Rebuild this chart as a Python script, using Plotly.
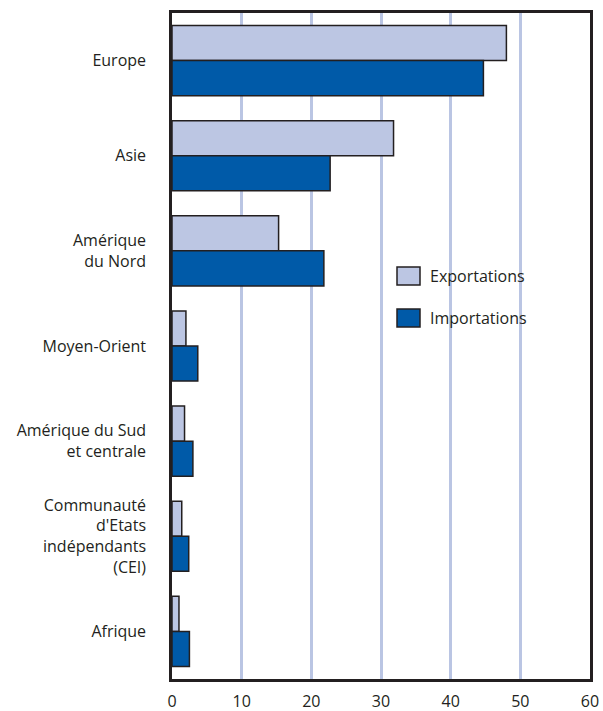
import plotly.graph_objects as go

# Régions (haut en bas) et parts du commerce, en %
regions = [
    "Europe",
    "Asie",
    "Amérique<br>du Nord",
    "Moyen-Orient",
    "Amérique du Sud<br>et centrale",
    "Communauté<br>d'Etats<br>indépendants<br>(CEI)",
    "Afrique",
]
exportations = [48.0, 31.8, 15.3, 2.0, 1.8, 1.4, 1.0]
importations = [44.7, 22.7, 21.8, 3.7, 3.0, 2.4, 2.5]
series_names = ["Exportations", "Importations"]
x_ticks = [0, 10, 20, 30, 40, 50, 60]

col_exp = "#bcc6e3"
col_imp = "#005aa8"
ink = "#231f20"
grid = "#bac5e3"
font = "Open Sans"

fig = go.Figure()
for name, vals, col in zip(series_names, [exportations, importations], [col_exp, col_imp]):
    fig.add_trace(go.Bar(
        y=regions, x=vals, name=name, orientation="h",
        marker=dict(color=col, line=dict(color=ink, width=1.5)),
        showlegend=False,
    ))

# Légende dessinée à la main : grandes pastilles carrées
W, H = 603, 711
L, R, T, B = 172, 13, 13, 32
pw, ph = W - L - R, H - T - B


def px_x(x):
    return (x - L) / pw


def px_y(y):
    return 1 - (y - T) / ph


legend_rows = [(series_names[0], col_exp, 276), (series_names[1], col_imp, 318)]
for name, col, cy in legend_rows:
    fig.add_shape(type="rect", xref="paper", yref="paper",
                  x0=px_x(397), x1=px_x(420), y0=px_y(cy - 9), y1=px_y(cy + 9),
                  fillcolor=col, line=dict(color=ink, width=1.5))
    fig.add_annotation(xref="paper", yref="paper", x=px_x(428), y=px_y(cy),
                       text=name, showarrow=False, xanchor="left", yanchor="middle",
                       font=dict(family=font, size=16, color=ink))

fig.update_layout(
    width=W, height=H,
    margin=dict(l=L, r=R, t=T, b=B, autoexpand=False),
    paper_bgcolor="white", plot_bgcolor="white",
    barmode="group", bargap=0.263, bargroupgap=0,
    font=dict(family=font, size=16, color=ink),
    showlegend=False,
)
fig.update_xaxes(
    range=[0, 60], tickvals=x_ticks, ticks="", showgrid=True,
    gridcolor=grid, gridwidth=2.5, zeroline=False,
    showline=True, linecolor=ink, linewidth=2.5, mirror=True,
    tickfont=dict(family=font, size=16, color=ink), automargin=False,
    ticklabelstandoff=6,
)
fig.update_yaxes(
    autorange="reversed", ticks="", showgrid=False,
    showline=True, linecolor=ink, linewidth=2.5, mirror=True,
    tickfont=dict(family=font, size=16, color=ink), automargin=False,
    ticklabelstandoff=20,
)

fig.write_html("out.html")
